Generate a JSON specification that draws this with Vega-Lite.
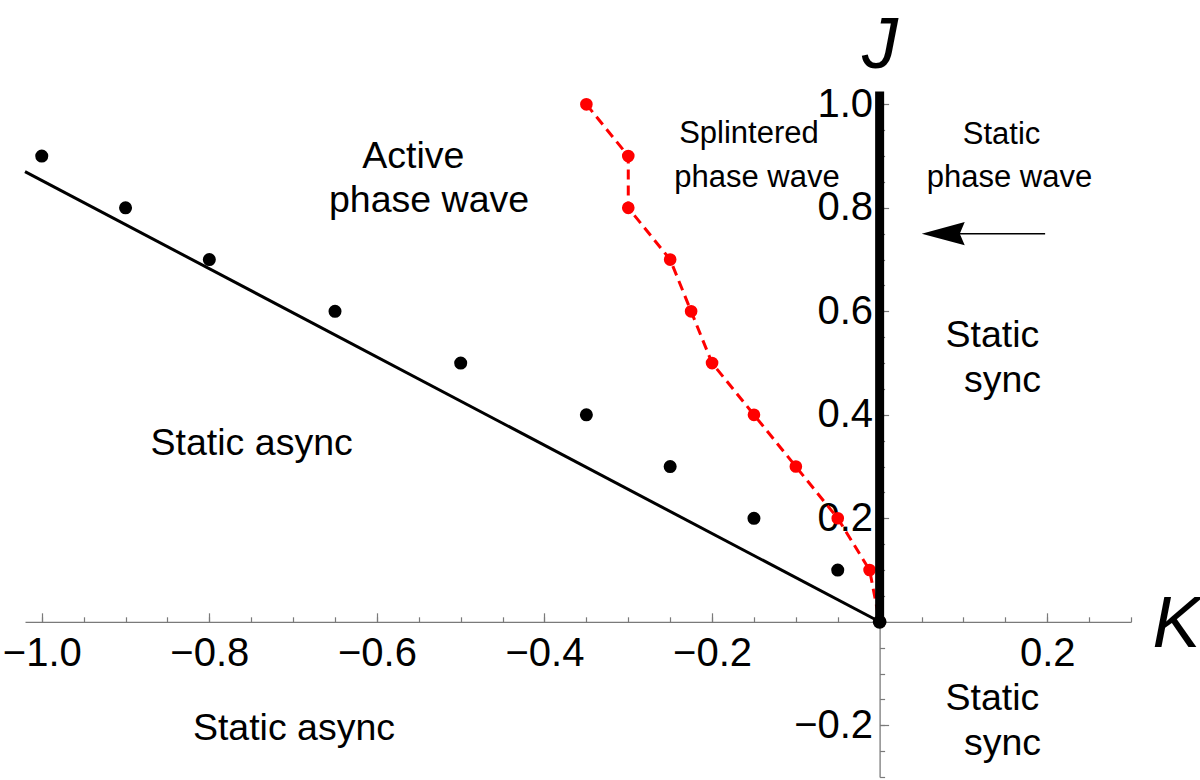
{
  "$schema": "https://vega.github.io/schema/vega-lite/v6.json",
  "width": 1106,
  "height": 683,
  "autosize": "none",
  "padding": {"left": 25, "top": 94, "right": 69, "bottom": 3},
  "background": "white",
  "config": {
    "view": {"stroke": null},
    "axis": {
      "grid": false,
      "domainColor": "#7a7a7a",
      "tickColor": "#7a7a7a",
      "domainWidth": 1.3,
      "tickWidth": 1.2,
      "labelFont": "Liberation Sans",
      "labelColor": "black",
      "labelFontSize": 40,
      "labelFlush": false,
      "labelOverlap": false,
      "titleFont": "Liberation Sans",
      "titleColor": "black"
    },
    "text": {"font": "Liberation Sans", "color": "black"}
  },
  "datasets": {
    "boundary": [
      {"K": -1.02, "J": 0.87},
      {"K": 0, "J": 0}
    ],
    "simulated": [
      {"K": -1.0, "J": 0.9},
      {"K": -0.9, "J": 0.8},
      {"K": -0.8, "J": 0.7},
      {"K": -0.65, "J": 0.6},
      {"K": -0.5, "J": 0.5},
      {"K": -0.35, "J": 0.4},
      {"K": -0.25, "J": 0.3},
      {"K": -0.15, "J": 0.2},
      {"K": -0.05, "J": 0.1}
    ],
    "splinter": [
      {"K": -0.35, "J": 1.0},
      {"K": -0.3, "J": 0.9},
      {"K": -0.3, "J": 0.8},
      {"K": -0.25, "J": 0.7},
      {"K": -0.225, "J": 0.6},
      {"K": -0.2, "J": 0.5},
      {"K": -0.15, "J": 0.4},
      {"K": -0.1, "J": 0.3},
      {"K": -0.05, "J": 0.2},
      {"K": -0.012, "J": 0.1},
      {"K": 0, "J": 0}
    ],
    "syncLine": [
      {"K": 0, "J": 0, "J2": 1.025}
    ],
    "origin": [
      {"K": 0, "J": 0}
    ],
    "arrowShaft": [
      {"K": 0.1975, "K2": 0.08, "J": 0.75}
    ],
    "arrowHead": [
      {"K": 0.0759, "J": 0.75}
    ],
    "regionsLarge": [
      {"K": -0.5566, "J": 0.8776, "label": "Active"},
      {"K": -0.5378, "J": 0.7926, "label": "phase wave"},
      {"K": -0.7495, "J": 0.3222, "label": "Static async"},
      {"K": -0.699, "J": -0.2287, "label": "Static async"},
      {"K": 0.1346, "J": 0.5316, "label": "Static"},
      {"K": 0.1466, "J": 0.4446, "label": "sync"},
      {"K": 0.1346, "J": -0.1707, "label": "Static"},
      {"K": 0.1466, "J": -0.2578, "label": "sync"}
    ],
    "regionsSmall": [
      {"K": -0.156, "J": 0.9248, "label": "Splintered"},
      {"K": -0.1464, "J": 0.8409, "label": "phase wave"},
      {"K": 0.1455, "J": 0.924, "label": "Static"},
      {"K": 0.155, "J": 0.8403, "label": "phase wave"}
    ]
  },
  "resolve": {"axis": {"x": "independent", "y": "independent"}},
  "layer": [
    {
      "data": {"name": "boundary"},
      "mark": {"type": "line", "color": "black", "strokeWidth": 3},
      "encoding": {
        "x": {
          "field": "K", "type": "quantitative",
          "scale": {"domain": [-1.02, 0.3], "nice": false, "zero": false},
          "axis": {
            "orient": "bottom", "offset": -155.2, "title": null,
            "labels": false, "domain": true, "tickSize": -5,
            "values": [-1, -0.95, -0.9, -0.85, -0.8, -0.75, -0.7, -0.65, -0.6, -0.55, -0.5, -0.45, -0.4, -0.35, -0.3, -0.25, -0.2, -0.15, -0.1, -0.05, 0.05, 0.1, 0.15, 0.2, 0.25, 0.3]
          }
        },
        "y": {
          "field": "J", "type": "quantitative",
          "scale": {"domain": [-0.3, 1.02], "nice": false, "zero": false},
          "axis": {
            "orient": "left", "offset": -854.6, "title": null,
            "labels": false, "domain": true, "tickSize": -5,
            "values": [-0.3, -0.25, -0.2, -0.15, -0.1, -0.05, 0.05, 0.1, 0.15, 0.2, 0.25, 0.3, 0.35, 0.4, 0.45, 0.5, 0.55, 0.6, 0.65, 0.7, 0.75, 0.8, 0.85, 0.9, 0.95, 1.0]
          }
        }
      }
    },
    {
      "data": {"name": "simulated"},
      "mark": {"type": "point", "filled": true, "color": "black", "opacity": 1, "size": 170},
      "encoding": {
        "x": {
          "field": "K", "type": "quantitative",
          "scale": {"domain": [-1.02, 0.3], "nice": false, "zero": false},
          "axis": {
            "orient": "bottom", "offset": -155.2, "title": null,
            "labels": false, "domain": false, "tickSize": -9,
            "values": [-1, -0.8, -0.6, -0.4, -0.2, 0.2]
          }
        },
        "y": {
          "field": "J", "type": "quantitative",
          "scale": {"domain": [-0.3, 1.02], "nice": false, "zero": false},
          "axis": {
            "orient": "left", "offset": -854.6, "title": null,
            "labels": false, "domain": false, "tickSize": -9,
            "values": [-0.2, 0.2, 0.4, 0.6, 0.8, 1.0]
          }
        }
      }
    },
    {
      "data": {"name": "splinter"},
      "mark": {"type": "line", "color": "#ff0000", "strokeWidth": 3, "strokeDash": [10, 6], "point": {"filled": true, "color": "#ff0000", "size": 160, "opacity": 1}},
      "encoding": {
        "x": {
          "field": "K", "type": "quantitative",
          "scale": {"domain": [-1.02, 0.3], "nice": false, "zero": false},
          "axis": {
            "orient": "bottom", "offset": -155.2,
            "ticks": false, "domain": false,
            "values": [-1, -0.8, -0.6, -0.4, -0.2, 0.2],
            "format": ".1f", "labelPadding": 44, "labelBaseline": "alphabetic",
            "title": "K", "titleFontSize": 72, "titleFontStyle": "italic", "titleFontWeight": "normal",
            "titleX": 1127, "titleY": 25, "titleAlign": "left", "titleBaseline": "alphabetic", "titleAngle": 0
          }
        },
        "y": {
          "field": "J", "type": "quantitative",
          "scale": {"domain": [-0.3, 1.02], "nice": false, "zero": false},
          "axis": {
            "orient": "left", "offset": -854.6,
            "ticks": false, "domain": false,
            "values": [-0.2, 0.2, 0.4, 0.6, 0.8, 1.0],
            "format": ".1f", "labelPadding": 7, "labelAlign": "right", "labelBaseline": "middle",
            "title": "J", "titleFontSize": 72, "titleFontStyle": "italic", "titleFontWeight": "normal",
            "titleX": 0, "titleY": -27, "titleAlign": "center", "titleBaseline": "alphabetic", "titleAngle": 0
          }
        }
      }
    },
    {
      "data": {"name": "syncLine"},
      "mark": {"type": "rule", "color": "black", "strokeWidth": 9},
      "encoding": {
        "x": {"field": "K", "type": "quantitative", "scale": {"domain": [-1.02, 0.3], "nice": false, "zero": false}, "axis": null},
        "y": {"field": "J", "type": "quantitative", "scale": {"domain": [-0.3, 1.02], "nice": false, "zero": false}, "axis": null},
        "y2": {"field": "J2"}
      }
    },
    {
      "data": {"name": "origin"},
      "mark": {"type": "point", "filled": true, "color": "black", "opacity": 1, "size": 190},
      "encoding": {
        "x": {"field": "K", "type": "quantitative", "scale": {"domain": [-1.02, 0.3], "nice": false, "zero": false}, "axis": null},
        "y": {"field": "J", "type": "quantitative", "scale": {"domain": [-0.3, 1.02], "nice": false, "zero": false}, "axis": null}
      }
    },
    {
      "data": {"name": "arrowShaft"},
      "mark": {"type": "rule", "color": "black", "strokeWidth": 1.5},
      "encoding": {
        "x": {"field": "K", "type": "quantitative", "scale": {"domain": [-1.02, 0.3], "nice": false, "zero": false}, "axis": null},
        "x2": {"field": "K2"},
        "y": {"field": "J", "type": "quantitative", "scale": {"domain": [-0.3, 1.02], "nice": false, "zero": false}, "axis": null}
      }
    },
    {
      "data": {"name": "arrowHead"},
      "mark": {"type": "point", "filled": true, "color": "black", "opacity": 1, "size": 1849, "shape": "M-1,0L1,-0.54L0.77,0L1,0.54Z"},
      "encoding": {
        "x": {"field": "K", "type": "quantitative", "scale": {"domain": [-1.02, 0.3], "nice": false, "zero": false}, "axis": null},
        "y": {"field": "J", "type": "quantitative", "scale": {"domain": [-0.3, 1.02], "nice": false, "zero": false}, "axis": null}
      }
    },
    {
      "data": {"name": "regionsLarge"},
      "mark": {"type": "text", "fontSize": 37.5, "align": "center", "baseline": "alphabetic"},
      "encoding": {
        "x": {"field": "K", "type": "quantitative", "scale": {"domain": [-1.02, 0.3], "nice": false, "zero": false}, "axis": null},
        "y": {"field": "J", "type": "quantitative", "scale": {"domain": [-0.3, 1.02], "nice": false, "zero": false}, "axis": null},
        "text": {"field": "label"}
      }
    },
    {
      "data": {"name": "regionsSmall"},
      "mark": {"type": "text", "fontSize": 31, "align": "center", "baseline": "alphabetic"},
      "encoding": {
        "x": {"field": "K", "type": "quantitative", "scale": {"domain": [-1.02, 0.3], "nice": false, "zero": false}, "axis": null},
        "y": {"field": "J", "type": "quantitative", "scale": {"domain": [-0.3, 1.02], "nice": false, "zero": false}, "axis": null},
        "text": {"field": "label"}
      }
    }
  ]
}
